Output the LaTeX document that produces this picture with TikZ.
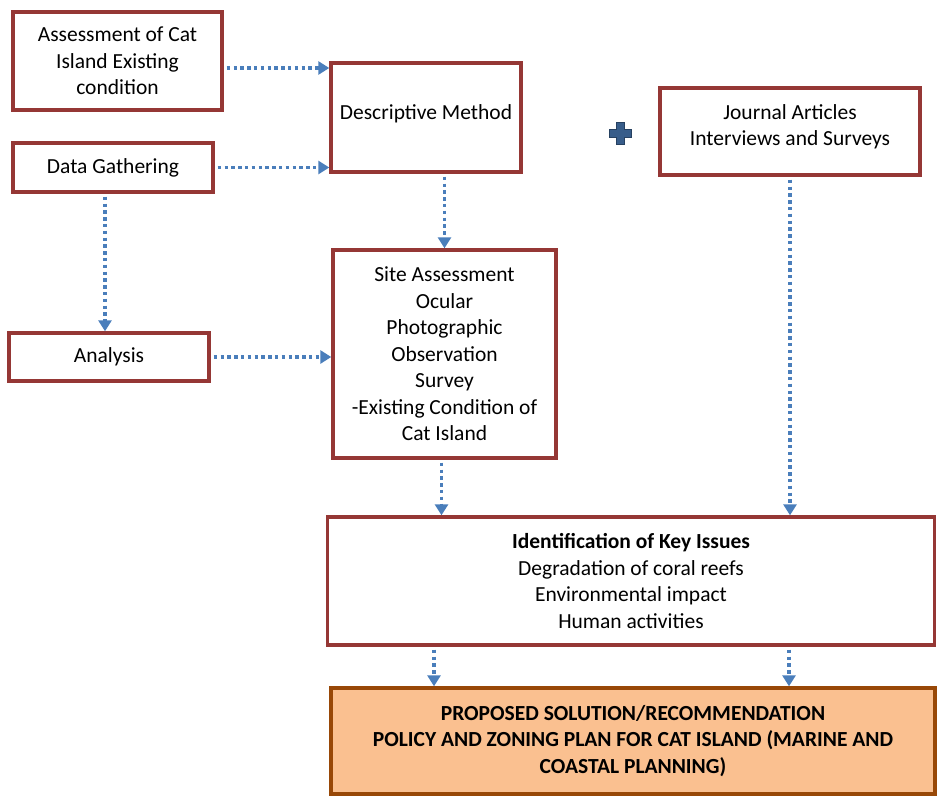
\documentclass[tikz,border=0pt]{standalone}
\usepackage{fontspec}
\setmainfont{Carlito}
\usetikzlibrary{arrows.meta}
\definecolor{boxred}{HTML}{953735}
\definecolor{arrblue}{HTML}{4A7EBB}
\definecolor{propfill}{HTML}{FAC090}
\definecolor{propdraw}{HTML}{984807}
\definecolor{plusblue}{HTML}{385D8A}
\newcommand{\fs}{\fontsize{21.5}{26.5}\selectfont}
\tikzset{
  x=1pt, y=-1pt,
  box/.style={draw=boxred, line width=3.4pt, fill=white, align=center, inner sep=0pt, font=\fs},
  propbox/.style={draw=propdraw, line width=3.4pt, fill=propfill, align=center, inner sep=0pt, font=\fs\bfseries},
  arr/.style={draw=arrblue, line width=3.4pt, dash pattern=on 3.4pt off 3.4pt,
     -{Triangle[length=11pt,width=13pt]}, shorten <=3pt}
}
\begin{document}
\begin{tikzpicture}
\useasboundingbox (0,0) rectangle (937,796);
\node[box, minimum width=209, minimum height=98] (A) at (117.5,61) {Assessment of Cat\\Island Existing\\condition};
\node[box, minimum width=200, minimum height=49] (DG) at (113,167.5) {Data Gathering};
\node[box, minimum width=200, minimum height=48] (AN) at (109,357) {Analysis};
\node[box, minimum width=190, minimum height=109, text depth=11pt] (DM) at (426,117.5) {Descriptive Method};
\node[box, minimum width=260, minimum height=87, text depth=13pt] (J) at (790,131.5) {Journal Articles\\Interviews and Surveys};
\node[box, minimum width=223, minimum height=208] (S) at (444.5,354) {Site Assessment\\Ocular\\Photographic\\Observation\\Survey\\-Existing Condition of\\Cat Island};
\node[box, minimum width=607, minimum height=128] (I) at (631,581) {\textbf{Identification of Key Issues}\\Degradation of coral reefs\\Environmental impact\\Human activities};
\node[propbox, minimum width=604, minimum height=106] (P) at (633,741) {PROPOSED SOLUTION/RECOMMENDATION\\POLICY AND ZONING PLAN FOR CAT ISLAND (MARINE AND\\COASTAL PLANNING)};
% plus sign
\fill[plusblue, draw=plusblue!70!black, line width=0.6pt]
  (616,122) -- (624,122) -- (624,129) -- (631,129) -- (631,137) -- (624,137) -- (624,144)
  -- (616,144) -- (616,137) -- (609,137) -- (609,129) -- (616,129) -- cycle;
% connectors
\draw[arr] ([yshift=-7pt]A.east) -- ([yshift=-7pt]A.east -| DM.west);
\draw[arr] (DG.east) -- (DG.east -| DM.west);
\draw[arr] ([xshift=-8pt]DG.south) -- ([xshift=-8pt]DG.south |- AN.north);
\draw[arr] (AN.east) -- (AN.east -| S.west);
\draw[arr] (S.north |- DM.south) -- (S.north);
\draw[arr] ([xshift=-3pt]S.south) -- ([xshift=-3pt]S.south |- I.north);
\draw[arr] (J.south) -- (J.south |- I.north);
\draw[arr] ([xshift=-197pt]I.south) -- ([xshift=-197pt]I.south |- P.north);
\draw[arr] ([xshift=158pt]I.south) -- ([xshift=158pt]I.south |- P.north);
\end{tikzpicture}
\end{document}
